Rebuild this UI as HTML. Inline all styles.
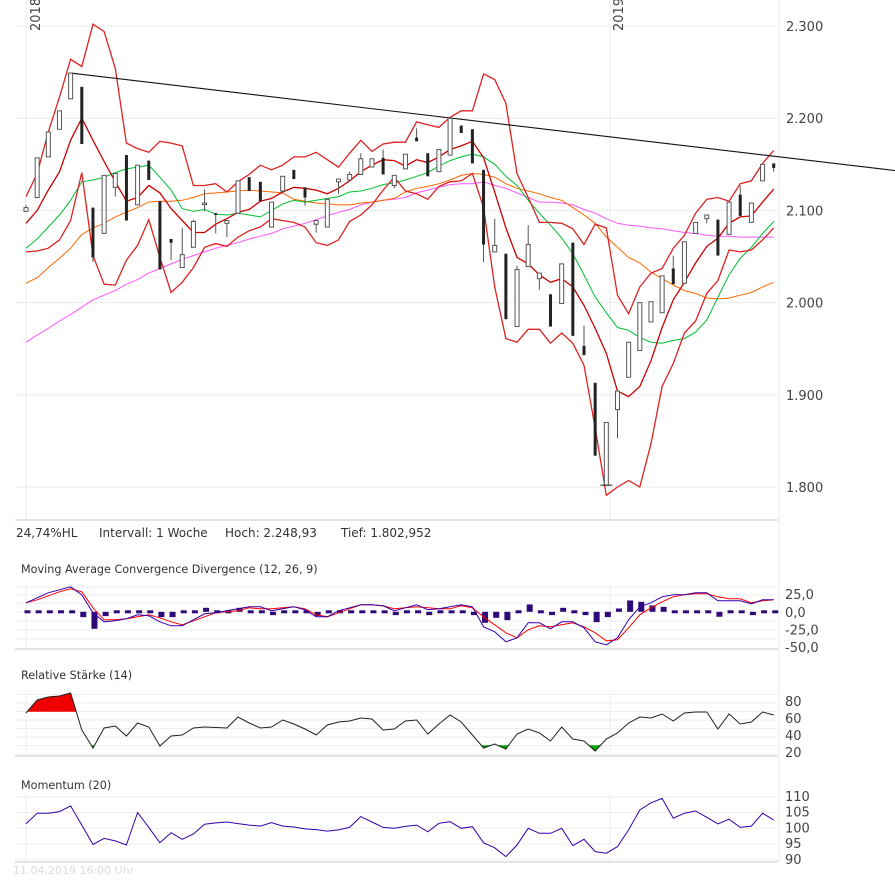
<!DOCTYPE html>
<html><head><meta charset="utf-8"><style>
body{margin:0;background:#fff;width:895px;height:881px;overflow:hidden;font-family:"Liberation Sans","DejaVu Sans",sans-serif}
svg{position:absolute;left:0;top:0}
text{font-family:"DejaVu Sans","Liberation Sans",sans-serif}
</style></head><body>
<svg id="chart" width="895" height="881" viewBox="0 0 895 881" xmlns="http://www.w3.org/2000/svg"></svg>
<script>
// ---- data ----
const ohlcOpen=[2099,2114,2158,2188,2221,2234,2103,2075,2125,2160,2106,2154,2110,2069,2038,2060,2107,2097,2086,2097,2136,2131,2082,2121,2144,2125,2085,2082,2131,2133,2139,2147,2157,2127,2145,2179,2162,2142,2160,2192,2188,2144,2055,2053,1974,2039,2026,2009,1999,2065,1953,1913,1802,1884,1919,1948,1979,1989,2037,2021,2075,2091,2090,2074,2117,2087,2132,2151];
const ohlcClose=[2103,2157,2185,2208,2249,2172,2049,2138,2140,2089,2149,2133,2036,2065,2052,2088,2108,2095,2089,2132,2121,2110,2109,2137,2134,2114,2089,2112,2134,2139,2156,2156,2139,2138,2161,2175,2137,2166,2200,2184,2151,2063,2062,1982,2036,2063,2032,1974,2042,1964,1943,1834,1870,1904,1957,2000,2001,2029,2020,2066,2087,2095,2051,2109,2094,2108,2150,2146];
const ohlcHigh=[2106,2157,2185,2208,2249,2234,2103,2138,2141,2160,2149,2154,2110,2069,2081,2090,2123,2097,2089,2132,2136,2131,2109,2137,2144,2125,2089,2112,2134,2142,2162,2156,2166,2138,2161,2189,2162,2166,2200,2192,2188,2144,2091,2053,2040,2084,2032,2009,2042,2065,1975,1913,1870,1904,1957,2000,2001,2029,2051,2066,2087,2095,2090,2109,2127,2108,2150,2151];
const ohlcLow=[2099,2114,2158,2188,2221,2172,2044,2075,2115,2089,2106,2133,2036,2046,2038,2060,2099,2075,2071,2097,2121,2110,2082,2119,2134,2105,2076,2082,2118,2133,2139,2147,2139,2124,2145,2175,2137,2142,2160,2184,2151,2044,2055,1982,1974,2039,2014,1974,1999,1964,1943,1834,1802,1853,1919,1948,1979,1989,2020,2021,2075,2086,2051,2074,2094,2087,2132,2142];
const bbUpper=[2115,2140,2185,2223,2264,2256,2302,2294,2254,2173,2167,2163,2175,2173,2170,2127,2127,2129,2120,2131,2139,2149,2144,2149,2158,2158,2163,2155,2147,2162,2176,2164,2172,2174,2174,2196,2193,2190,2201,2208,2208,2248,2242,2216,2140,2114,2087,2087,2086,2080,2063,2085,2081,2008,1988,2017,2032,2037,2059,2073,2097,2112,2114,2110,2129,2132,2151,2165];
const bbMiddle=[2086,2100,2122,2142,2176,2200,2176,2153,2131,2110,2114,2127,2119,2102,2089,2076,2076,2085,2091,2098,2101,2110,2113,2120,2125,2124,2122,2118,2124,2132,2142,2149,2155,2154,2148,2155,2152,2158,2166,2170,2175,2157,2120,2081,2049,2042,2030,2022,2026,2017,1997,1972,1945,1904,1898,1909,1937,1973,2003,2022,2043,2061,2070,2086,2093,2094,2109,2123];
const bbLower=[2055,2056,2059,2068,2089,2141,2051,2020,2019,2046,2062,2090,2049,2011,2022,2038,2060,2064,2061,2071,2078,2082,2091,2089,2087,2082,2065,2062,2068,2088,2095,2106,2122,2136,2121,2118,2112,2126,2131,2132,2140,2103,2017,1961,1957,1971,1971,1956,1967,1956,1932,1864,1791,1800,1807,1800,1847,1909,1934,1967,1980,2010,2024,2057,2055,2057,2068,2081];
const maGreen=[2059,2069,2082,2095,2111,2131,2133,2136,2141,2145,2147,2149,2136,2122,2102,2099,2101,2096,2095,2097,2095,2093,2100,2107,2111,2109,2111,2113,2115,2120,2121,2124,2128,2130,2133,2137,2141,2148,2154,2158,2161,2158,2150,2137,2127,2111,2097,2084,2070,2053,2030,2006,1989,1973,1970,1962,1957,1956,1959,1961,1968,1981,2006,2030,2048,2060,2075,2088];
const maOrange=[2021,2027,2038,2048,2059,2074,2081,2086,2093,2098,2103,2109,2110,2110,2111,2114,2118,2119,2120,2121,2122,2121,2120,2119,2112,2110,2108,2107,2106,2106,2108,2109,2111,2113,2120,2124,2126,2129,2133,2138,2140,2139,2136,2129,2124,2121,2118,2114,2111,2103,2095,2086,2071,2060,2049,2043,2033,2026,2019,2013,2010,2005,2004,2005,2008,2011,2017,2022];
const maMagenta=[1957,1965,1972,1980,1987,1995,2003,2008,2013,2020,2025,2032,2037,2042,2047,2051,2055,2059,2062,2065,2069,2072,2075,2080,2083,2086,2090,2094,2098,2101,2106,2109,2111,2112,2114,2119,2122,2125,2128,2129,2129,2131,2127,2124,2119,2114,2109,2109,2108,2106,2101,2097,2091,2086,2084,2083,2081,2080,2078,2076,2075,2073,2072,2072,2071,2071,2071,2071];
const trendStart=[4,2249];
const trendEnd=[78,2143];
const priceTicks=[2300,2200,2100,2000,1900,1800];
const priceTickLabels=["2.300","2.200","2.100","2.000","1.900","1.800"];
const macdLine=[12.7,19.8,26.8,31.1,35.3,24.0,-1.4,-14.1,-12.7,-9.9,-4.2,-5.6,-14.1,-19.8,-19.8,-11.3,-2.8,-1.4,1.4,4.2,7.1,7.1,1.4,4.2,7.1,2.8,-7.1,-7.1,1.4,5.6,9.9,9.9,8.5,1.4,5.6,9.9,2.8,4.2,7.1,9.9,7.1,-21.2,-28.2,-42.4,-36.7,-15.5,-15.5,-24,-14.1,-14.1,-22.6,-42.4,-46.6,-36.7,-11.3,7.1,12.7,21.2,24,24,26.8,26.8,15.5,15.5,15.5,11.3,16.9,16.9];
const macdSignal=[12.7,16.9,22.6,28.2,32.5,28.2,5.6,-11.3,-11.3,-9.9,-7.1,-4.2,-8.5,-14.1,-18.4,-12.7,-7.1,-1.4,0,1.4,5.6,4.2,4.2,5.6,7.1,4.2,-4.2,-7.1,-1.4,4.2,9.9,9.9,8.5,4.2,5.6,7.1,5.6,4.2,4.2,8.5,5.6,-7.1,-18.4,-29.7,-36.7,-25.4,-19.8,-21.2,-18.4,-15.5,-21.2,-29.7,-40.9,-39.5,-22.6,-4.2,5.6,14.1,21.2,24,25.4,25.4,21.2,18.4,18.4,12.7,15.5,16.9];
const macdHist=[0,3.3,4.2,4.2,4.2,-7.5,-24,-6.1,0,0,3.3,3.3,-7.5,-7.5,0,4.2,5.6,0,0,5.6,4.2,0,-4.7,0,0,-3.8,-6.1,0,4.2,4.2,3.3,0,0,-4.7,0,3.3,-4.7,3.3,4.2,0,-4.7,-15.5,-8.5,-11.8,0,10.4,3.3,-4.7,5.6,0,-4.7,-14.6,-7.5,4.7,16,14.1,9,7,0,0,0,0,-7,-3.3,0,-4.7,0,0];
const macdTicks=[25,0,-25,-50];
const macdTickLabels=["25,0","0,0","-25,0","-50,0"];
const rsiValues=[68.2,83.5,87,88.2,91.8,48.2,27,50.6,52.9,41.2,56.5,51.8,29.4,41.2,42.4,50.6,51.8,51.2,50.6,63.5,56.5,50.6,51.8,60,55.3,49.4,42.4,54.1,57.6,58.8,62.4,61.2,48.2,49.4,58.8,60,43.5,55.3,65.9,57.6,42.4,27,31.8,25.9,43.5,49.4,44.7,35.3,51.8,37.6,35.3,23.5,37.6,44.7,56.5,63.5,62.4,67.1,58.8,68.2,69.4,69.4,49.4,67.1,55.3,57.6,69.4,65.9];
const rsiTicks=[80,60,40,20];
const momValues=[101.4,104.8,104.8,105.3,107.1,101.0,94.9,96.8,96.0,94.7,105.0,100.3,95.4,98.6,96.5,98.2,101.3,101.7,102.0,101.5,101.0,100.7,101.8,100.7,100.4,99.8,99.6,99.1,99.5,100.3,103.7,102,100.3,100.0,100.6,101.0,98.9,101.6,102.1,100,100.5,95.4,93.8,91.0,94.7,100,98.4,98.4,100,94.5,96.5,92.6,92.1,94.2,99.5,105.8,108.1,109.5,103.2,104.8,105.5,103.5,101.4,102.9,100.3,100.7,104.8,102.6];
const momTicks=[110,105,100,95,90];

// ---- scales ----
const X0=26, DX=11.16, LEFT=15, RIGHT=778;
const xs=i=>X0+i*DX;
const yP=v=>26+(2300-v)*0.922;
const yM=v=>611.8-v*0.708;
const yR=v=>754-(v-20)*0.85;
const yMo=v=>828.3-(v-100)*3.15;
const svg=document.getElementById('chart');
const NS='http://www.w3.org/2000/svg';
function mk(tag,attrs,parent){const e=document.createElementNS(NS,tag);for(const k in attrs)e.setAttribute(k,attrs[k]);(parent||svg).appendChild(e);return e;}
function grp(name){const g=mk('g',{});return g;}
function txt(g,x,y,s,size,fill,anchor){const t=mk('text',{x:x,y:y,'font-size':size,fill:fill,'text-anchor':anchor||'start'},g);t.textContent=s;return t;}
function poly(g,vals,yf,color,w){return mk('polyline',{points:vals.map((v,i)=>xs(i).toFixed(1)+','+yf(v).toFixed(1)).join(' '),fill:'none',stroke:color,'stroke-width':w||1},g);}

// ---- main price panel ----
const gGrid=grp('price-grid');
priceTicks.forEach((v,k)=>{
  mk('line',{x1:LEFT,x2:RIGHT,y1:yP(v),y2:yP(v),stroke:'#ebebeb'},gGrid);
  const t=txt(gGrid,786,yP(v)+5,priceTickLabels[k],13,'#444');
  
  
});
mk('line',{x1:26,x2:26,y1:0,y2:520,stroke:'#ebebeb'},gGrid);
mk('line',{x1:610,x2:610,y1:0,y2:520,stroke:'#ebebeb'},gGrid);
mk('line',{x1:779,x2:779,y1:0,y2:862,stroke:'#ebebeb'},gGrid);
mk('line',{x1:LEFT,x2:RIGHT,y1:520,y2:520,stroke:'#e4e4e4','stroke-width':2},gGrid);
const y18=txt(gGrid,0,0,'2018',13,'#444');y18.setAttribute('transform','translate(40,31) rotate(-90)');

const y19=txt(gGrid,0,0,'2019',13,'#444');y19.setAttribute('transform','translate(623,31) rotate(-90)');


const gLines=grp('price-indicators');
const pm=poly(gLines,maMagenta,yP,'#ff55ff');
const po=poly(gLines,maOrange,yP,'#ff6600');
const pg=poly(gLines,maGreen,yP,'#00c030');
const pu=poly(gLines,bbUpper,yP,'#dd2222',1.3);
const pmid=poly(gLines,bbMiddle,yP,'#cc0000',1.3);
const pl=poly(gLines,bbLower,yP,'#dd2222',1.3);
const tl=mk('line',{x1:xs(trendStart[0]),y1:yP(trendStart[1]),x2:xs(trendEnd[0]),y2:yP(trendEnd[1]),stroke:'#111','stroke-width':1.1},gLines);


const gC=grp('candles');
ohlcOpen.forEach((o,i)=>{
  const c=ohlcClose[i],x=xs(i);
  const g=mk('g',{},gC);
  
  
  mk('line',{x1:x,x2:x,y1:yP(ohlcHigh[i]),y2:yP(ohlcLow[i]),stroke:'#555'},g);
  const top=yP(Math.max(o,c)),bot=yP(Math.min(o,c)),h=Math.max(bot-top,1.5);
  if(c>=o) mk('rect',{x:x-2,y:top,width:4,height:h,fill:'#fff',stroke:'#555','stroke-width':1},g);
  else mk('rect',{x:x-1.5,y:top,width:3,height:h,fill:'#222'},g);
});
mk('line',{x1:xs(52)-6,x2:xs(52)+6,y1:yP(ohlcLow[52]),y2:yP(ohlcLow[52]),stroke:'#222'},gC);

// info row
const gInfo=grp('info-row');
[['24,74%HL',16],['Intervall: 1 Woche',99],['Hoch:  2.248,93',225],['Tief: 1.802,952',341]].forEach(a=>{
  const t=txt(gInfo,a[1],537,a[0],12,'#333');t.setAttribute('xml:space','preserve');
  
});

// ---- MACD ----
const gM=grp('macd-panel');
const mt=txt(gM,21,573,'Moving Average Convergence Divergence (12, 26, 9)',11.2,'#333');

[587,595,603,612,621,630,639].forEach(y=>mk('line',{x1:LEFT,x2:RIGHT,y1:y,y2:y,stroke:'#eeeeee'},gM));
mk('line',{x1:LEFT,x2:RIGHT,y1:649,y2:649,stroke:'#e4e4e4','stroke-width':2},gM);
mk('line',{x1:26,x2:26,y1:585,y2:648,stroke:'#eeeeee'},gM);mk('line',{x1:610,x2:610,y1:585,y2:648,stroke:'#eeeeee'},gM);
macdTicks.forEach((v,k)=>{const t=txt(gM,785,yM(v)+5,macdTickLabels[k],13,'#444');});
macdHist.forEach((v,i)=>{
  const y0=yM(0),y1=yM(v);let top=Math.min(y0,y1),h=Math.abs(y1-y0);
  if(h<3){top=y0-1.5;h=3;}
  const r=mk('rect',{x:xs(i)-1.5,y:top,width:6,height:h,fill:'#2e0a78'},gM);
  
  
});
const ms=poly(gM,macdSignal,yM,'#ff0000');
const ml=poly(gM,macdLine,yM,'#3300aa');

// ---- RSI ----
const gR=grp('rsi-panel');
const rt=txt(gR,21,679,'Relative Stärke (14)',11.2,'#333');
[90,80,70,60,50,40,30,20].forEach(v=>mk('line',{x1:LEFT,x2:RIGHT,y1:yR(v),y2:yR(v),stroke:'#eeeeee'},gR));
mk('line',{x1:LEFT,x2:RIGHT,y1:756,y2:756,stroke:'#e4e4e4','stroke-width':2},gR);
mk('line',{x1:26,x2:26,y1:692,y2:755,stroke:'#eeeeee'},gR);mk('line',{x1:610,x2:610,y1:692,y2:755,stroke:'#eeeeee'},gR);
rsiTicks.forEach(v=>{const t=txt(gR,785,yR(v)+3,String(v),13,'#444');});
function fillZone(thr,above,color){
  for(let i=0;i<rsiValues.length-1;i++){
    const a=rsiValues[i],b=rsiValues[i+1];
    const ina=above?a>thr:a<thr, inb=above?b>thr:b<thr;
    if(!ina&&!inb)continue;
    let x1=xs(i),x2=xs(i+1),v1=a,v2=b;
    if(!ina){x1=xs(i)+DX*(thr-a)/(b-a);v1=thr;}
    if(!inb){x2=xs(i)+DX*(thr-a)/(b-a);v2=thr;}
    const p=mk('polygon',{points:`${x1},${yR(thr)} ${x1},${yR(v1)} ${x2},${yR(v2)} ${x2},${yR(thr)}`,fill:color,stroke:color,'stroke-width':0.6},gR);
    
    
  }
}
fillZone(70,true,'#ee0000');fillZone(30,false,'#00aa00');
const rl=poly(gR,rsiValues,yR,'#222');

// ---- Momentum ----
const gMo=grp('momentum-panel');
const mot=txt(gMo,21,789,'Momentum (20)',11.2,'#333');
momTicks.forEach(v=>{
  mk('line',{x1:LEFT,x2:RIGHT,y1:yMo(v),y2:yMo(v),stroke:'#eeeeee'},gMo);
  const t=txt(gMo,785,yMo(v)+4,String(v),13,'#444');
});
mk('line',{x1:LEFT,x2:RIGHT,y1:862,y2:862,stroke:'#e4e4e4','stroke-width':2},gMo);
mk('line',{x1:26,x2:26,y1:795,y2:861,stroke:'#eeeeee'},gMo);mk('line',{x1:610,x2:610,y1:795,y2:861,stroke:'#eeeeee'},gMo);
const mol=poly(gMo,momValues,yMo,'#3300aa');

const ts=txt(svg,13,874,'11.04.2019 16:00 Uhr',11,'#dcdcdc');

</script>
</body></html>
